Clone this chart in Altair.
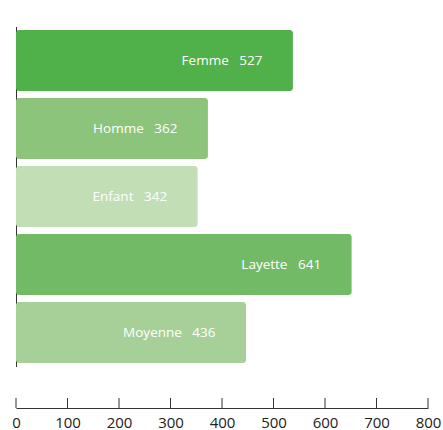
import altair as alt
import pandas as pd

categories = ["Femme", "Homme", "Enfant", "Layette", "Moyenne"]
values = [527, 362, 342, 641, 436]
colors = ["#50B04A", "#8DC47C", "#C2DEB5", "#73BA66", "#A7D099"]
tick_values = [0, 100, 200, 300, 400, 500, 600, 700, 800]

W, H = 412, 397

df = pd.DataFrame({
    "cat": categories,
    "val": values,
    "zero": [0] * len(values),
    "label": [f"{c}\u00a0\u00a0\u00a0{v}" for c, v in zip(categories, values)],
})
ticks_df = pd.DataFrame({"t": tick_values})

xscale = alt.Scale(domain=[0, 800], nice=False, zero=True)
yscale = alt.Scale(domain=categories, range=[15.5, 355.5], paddingInner=0.103, paddingOuter=0.0515)

bars = alt.Chart(df).mark_bar(cornerRadiusEnd=3, xOffset=5.5, x2Offset=0).encode(
    x=alt.X("val:Q", scale=xscale,
            axis=alt.Axis(values=tick_values, title=None, ticks=False, grid=False,
                          domainColor="#333333", domainWidth=1, labelColor="#222222",
                          labelFontSize=15, labelFont="Open Sans", labelPadding=7,
                          labelFlush=False)),
    x2="zero:Q",
    y=alt.Y("cat:N", scale=yscale, sort=categories,
            axis=alt.Axis(labels=False, ticks=False, title=None, grid=False,
                          domainColor="#333333", domainWidth=1)),
    color=alt.Color("cat:N", scale=alt.Scale(domain=categories, range=colors), legend=None),
)

text = alt.Chart(df).mark_text(align="right", baseline="middle", dx=-25, color="white",
                               fontSize=13.5, font="Open Sans").encode(
    x=alt.X("val:Q", scale=xscale),
    y=alt.Y("cat:N", scale=yscale, sort=categories),
    text="label:N",
)

tick_rules = alt.Chart(ticks_df).mark_rule(color="#333333", strokeWidth=1).encode(
    x=alt.X("t:Q", scale=xscale),
    y=alt.value(H - 10),
    y2=alt.value(H),
)

chart = alt.layer(bars, text, tick_rules).properties(
    width=W, height=H,
    background="white",
    autosize=alt.AutoSizeParams(type="none"),
    padding={"left": 16, "top": 11, "right": 15, "bottom": 22},
).configure_view(strokeWidth=0, stroke=None)

chart.save("out.html", embed_options={"renderer": "svg", "actions": False})
